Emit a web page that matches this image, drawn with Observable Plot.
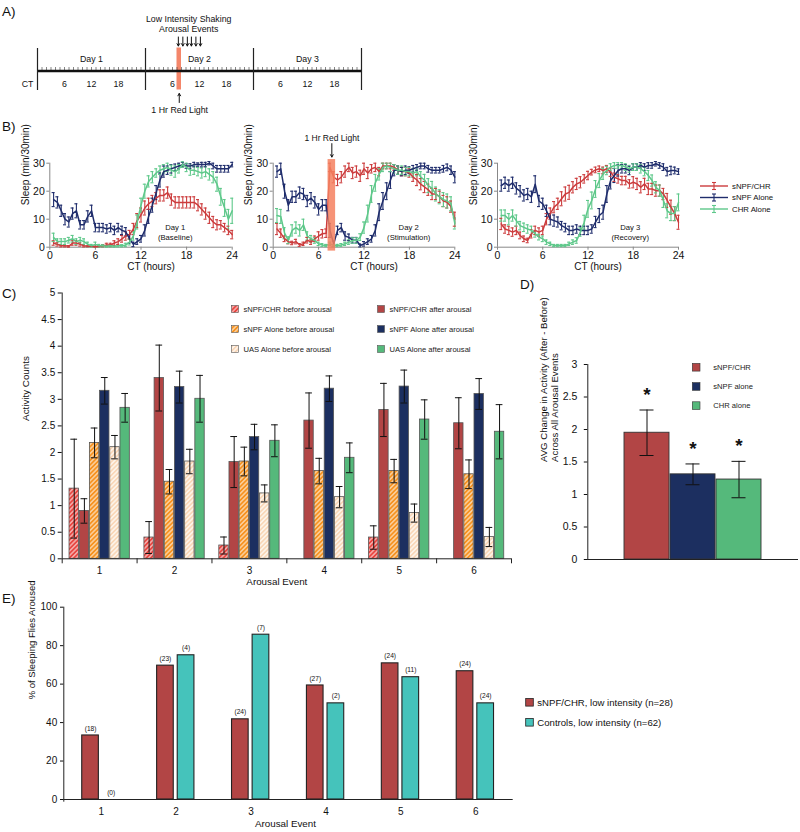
<!DOCTYPE html>
<html><head><meta charset="utf-8">
<script src="https://cdn.jsdelivr.net/npm/d3@7"></script>
<script src="https://cdn.jsdelivr.net/npm/@observablehq/plot@0.6"></script>
<style>
body{margin:0;background:#fff;}
#root{position:relative;width:800px;height:832px;overflow:hidden;background:#fff;}
</style></head><body><div id="root"></div>
<script>
// ---------------- DATA ----------------
// Panel A (schematic)
const dayNames = ["Day 1", "Day 2", "Day 3"];
const ctTicks = [6, 12, 18];
const arousalCT = [7.3, 8.3, 9.3, 10.2, 11.2, 12.2]; // day 2
const redLightA = {start: 7, end: 8};                 // day 2, 1 h

// Panel B: sleep (min/30min) in 30-min bins, CT 0.5 ... 24
const bSeries = ["sNPF/CHR", "sNPF Alone", "CHR Alone"];
const bTicksX = [0, 6, 12, 18, 24];
const bTicksY = [0, 10, 20, 30];
const red1 = [1.5,1,0.5,0.5,0.3,1.5,1.5,1, 0.5,0.3,0.3,0.2,0.3,0.5,0.8,0.8, 1.5,2,3,4,4.5,6.5,9.5,11.5, 14,15.5,16.5,17.5,18.5,18.5,19.5,17, 16,16,16,16,16,16,15,13.5, 12,10.5,9,8,8,7,6,4.5];
const navy1 = [17,16,13,10,9,12,13,8, 8,11,13,7,7,7,6.5,7, 6,7,6,5.5,3,1,2,3, 6,11,15,19.5,24,27,27.5,28, 28.5,29,29.5,29,29,29.5,29.5,29.5, 29.5,30,29,28,28,28,28,29.5];
const green1 = [3.5,2,2,2,2.5,3,2,2.5, 2,1,0.5,1,0.5,0.5,0.3,0.5, 0.3,0.5,0.5,0.8,1.8,4,9,15, 20,23.5,25,26.5,27.5,28,28.5,27.5, 27,28,29.5,28.5,27.5,27.5,27,26.5, 27,26,25,22.5,18,14,10,13];
const red1E = [0.8,0.6,0.4,0.4,0.3,0.8,0.8,0.6, 0.4,0.2,0.2,0.2,0.3,0.4,0.6,0.6, 0.8,1,1.2,1.5,1.5,2,2.5,2.5, 2.5,2,2,2,2,2,2,2, 2,2,2,2,2,2,2,2, 2,2,2,1.8,1.5,1.5,1.5,1.5];
const navy1E = [2.5,2,2,2,1.8,2,2.5,1.5, 1.5,2,2,1.5,1.5,1.5,1.5,1.5, 1.5,1.5,1.5,1.5,1.5,0.8,1,1.2, 2,2.5,2.5,2.5,2.5,2,1.5,1.5, 1.2,1,0.8,0.8,0.8,0.8,0.6,0.8, 0.8,0.6,1,1.2,1.2,1.2,1.2,0.8];
const green1E = [1.5,1,1,1,1,1.2,1,1, 1,0.8,0.5,0.8,0.5,0.4,0.3,0.4, 0.3,0.4,0.4,0.6,1,1.5,2.5,2.5, 2.5,2,2,1.5,1.5,1.5,1.5,1.8, 2,1.5,1,1.5,1.8,1.5,1.5,1.8, 1.8,2,2,2.5,3,3,3.5,4.5];

const red2 = [6.5,5,3,2,1.5,2,0.8,1.2, 2.5,1.8,3,4,4.8,5,28.5,25, 24,25,27,28.5,26.5,27,25.5,28, 26.5,28,28.5,27,29,29,29,28.5, 27.5,27,27,26.5,25,24,22.5,21.5, 20.5,19,19,18,16.5,16,14.5,10];
const navy2 = [27,28,20,15,18,18,19.5,19, 16.5,17.5,16,13.5,15,15,6,1.2, 6,7,4,3.5,2.5,2.5,0.6,1.2, 2,3,6,12.5,16.5,20,24,27.5, 27.5,27,27.5,27.5,28,28.5,29,29, 28,27.5,27.5,27.5,28,28.5,27.5,25];
const green2 = [11.3,11,5,2.5,6,7,6,8, 4,3,2.4,1.2,0.8,0.6,1.2,0.6, 0.6,0.8,1.2,1.8,2.4,2.4,3.6,7, 12,19,23,26,28.5,29,28.5,28, 27.5,27.5,27,27,26.5,27,25,24, 22,21,19,18,17,16.5,15.5,8.5];
const red2E = [2,1.5,1,0.8,0.6,0.8,0.5,0.6, 1,0.8,1,1.5,1.5,1.5,1.5,2, 2,2,2,1.5,2,2,2,2, 2,1.5,1.5,1.5,1,1,1,1, 1.5,1.5,1.5,1.5,1.5,2,2,2, 2,2,2,2,2,2,2,2.5];
const navy2E = [2,2,2.5,2,2,2,2,2, 2,2,2,2,2,2,2.5,1, 1.5,1.5,1.5,1.2,1,1,0.5,0.8, 1,1.2,2,3,3,3,3,2, 1.5,1.5,1.5,1.2,1.2,1,1,1, 1.2,1,1,1,1.2,1.2,1.5,2];
const green2E = [2.5,2.5,2,1.2,2,2,2,2, 1.5,1.2,1,0.6,0.5,0.4,0.6,0.4, 0.4,0.5,0.6,0.8,1,1,1.2,2, 3,3,3,2,1.5,1,1.5,1.5, 1.5,1.5,1.5,1.5,1.5,1.5,2,2, 2.5,2.5,2.5,2.5,2.5,2.5,2.5,2];

const red3 = [8.3,6.5,6,5.4,6,4.2,3,2.4, 4.8,6,5.4,6,10,12,14.3,15.5, 17.3,19,19.6,21.4,22.6,23.2,24.4,25.6, 26.8,27.6,28,27.4,28,26.8,25,24.4, 23.8,23.8,22.6,23.2,22.6,21.4,22.6,20.8, 20.8,20.2,20.2,19,16.7,14.3,12,8.9];
const navy3 = [22,23,22,23,21,20,18.5,19, 18,22.5,16.5,15.5,13,10,9.5,9, 7.7,7,6,6,6.5,6,6,6, 6.5,9,11.3,12.5,19,23.8,25.6,27.4, 28,28,27.4,28.6,28.6,29.2,28.6,29.2, 29.2,29.8,29.2,28.6,27,27.4,27.4,27];
const green3 = [11.3,11.3,10,11.3,9.5,7.7,7.1,6.5, 6,4.8,3.6,3,1.8,1.2,0.6,0.6, 0.6,0.6,1.2,1.8,2.4,5.4,8.9,13.7, 16.7,20.8,23.8,26.2,27.4,28.6,29.2,29.2, 29.2,28.6,28,28.6,28.6,28,27,25.6, 23.8,21.4,20.2,16.7,13,12,12,16];
const red3E = [2,1.5,1.5,1.5,1.5,1.2,1,0.8, 1.5,1.5,1.5,1.5,2,2,2,2, 2.5,2.5,2.5,2,2,2,1.5,1.5, 1,1,1,1.2,1.2,1.5,1.5,1.5, 1.5,1.5,1.5,2,2,2,2,2, 2,2,2,2,2.5,2.5,2.5,2.5];
const navy3E = [2,2,2,2,2,2,2,2, 2,3,2,2,2,2,2,1.8, 1.5,1.5,1.5,1.5,1.5,1.5,1.5,1.5, 1.5,2,2.5,2.5,3,3,2.5,2, 1.5,1.5,1.5,1.2,1.2,1,1.2,1, 1,0.8,1,1.2,1.5,1.5,1.2,1];
const green3E = [2,2,2,2,2,1.5,1.5,1.5, 1.5,1.2,1,1,0.8,0.6,0.4,0.4, 0.4,0.4,0.6,0.8,1,1.5,2.5,3, 3,3,2.5,2,1.5,1.2,1,1, 1,1.2,1.2,1.2,1.2,1.5,1.5,1.8, 2,2,2,2.5,2.5,2.5,2.5,3];
const redLightB = {start: 7.25, end: 8.25};

// Panel C: activity counts before / after arousal
const cEvents = [1, 2, 3, 4, 5, 6];
const cSeries = ["sNPF/CHR before arousal", "sNPF/CHR after arousal", "sNPF Alone before arousal",
                 "sNPF Alone after arousal", "UAS Alone before arousal", "UAS Alone after arousal"];
const chrBefore  = [1.32, 0.40, 0.25, 0, 0.40, 0];
const chrAfter   = [0.90, 3.40, 1.82, 2.60, 2.80, 2.55];
const snpfBefore = [2.18, 1.45, 1.83, 1.65, 1.65, 1.59];
const snpfAfter  = [3.16, 3.23, 2.29, 3.20, 3.24, 3.10];
const uasBefore  = [2.10, 1.83, 1.23, 1.16, 0.86, 0.41];
const uasAfter   = [2.84, 3.01, 2.22, 1.90, 2.62, 2.39];
const chrBeforeE  = [0.93, 0.30, 0.16, 0, 0.22, 0];
const chrAfterE   = [0.23, 0.62, 0.48, 0.52, 0.50, 0.48];
const snpfBeforeE = [0.28, 0.23, 0.27, 0.24, 0.22, 0.27];
const snpfAfterE  = [0.25, 0.30, 0.24, 0.24, 0.31, 0.29];
const uasBeforeE  = [0.22, 0.23, 0.16, 0.20, 0.17, 0.18];
const uasAfterE   = [0.27, 0.44, 0.30, 0.28, 0.37, 0.51];
const cTicksY = [0, 0.5, 1, 1.5, 2, 2.5, 3, 3.5, 4, 4.5, 5];

// Panel D
const dGroups = ["sNPF/CHR", "sNPF alone", "CHR alone"];
const dValues = [1.95, 1.31, 1.23];
const dErrors = [0.35, 0.16, 0.28];
const dTicksY = [0, 0.5, 1, 1.5, 2, 2.5, 3];

// Panel E
const eSeries = ["sNPF/CHR, low intensity (n=28)", "Controls, low intensity (n=62)"];
const ePctChr  = [33.3, 69.6, 41.7, 59.3, 70.8, 66.7];
const ePctCtrl = [0, 75.0, 85.7, 50.0, 63.6, 50.0];
const eNChr  = [18, 23, 24, 27, 24, 24];
const eNCtrl = [0, 4, 7, 2, 11, 24];
const eTicksY = [0, 20, 40, 60, 80, 100];

// ---------------- STYLE ----------------
const FONT = '"Liberation Sans", Arial, Helvetica, sans-serif';
const C_RED = "#cc3c3d", C_NAVY = "#1f2d6c", C_GREEN = "#5ec88a";
const K_RED = "#b24545", K_NAVY = "#1c2f60", K_GREEN = "#55b97b", K_CYAN = "#45c3bb";
const root = document.getElementById("root");
function place(el, left, top) {
  el.style.position = "absolute"; el.style.left = left + "px"; el.style.top = top + "px";
  root.appendChild(el); return el;
}
const st = (fs) => ({fontFamily: FONT, fontSize: fs + "px", color: "#111", background: "transparent", overflow: "visible", maxWidth: "none"});

// overlay (defs, legends, panel letters)
const overlay = d3.create("svg").attr("width", 800).attr("height", 832)
  .style("position", "absolute").style("left", "0px").style("top", "0px").style("overflow", "visible")
  .attr("font-family", FONT);
const defs = overlay.append("defs");
function hatch(id, color, lw) {
  const p = defs.append("pattern").attr("id", id).attr("patternUnits", "userSpaceOnUse")
    .attr("width", 3.2).attr("height", 3.2).attr("patternTransform", "rotate(45)");
  p.append("rect").attr("width", 3.2).attr("height", 3.2).attr("fill", color);
  p.append("line").attr("x1", 0.8).attr("y1", 0).attr("x2", 0.8).attr("y2", 3.2)
    .attr("stroke", "#fff").attr("stroke-width", lw).attr("stroke-opacity", 0.85);
}
hatch("hRed", "#e8443f", 1.0);
hatch("hOrange", "#f6921f", 1.0);
hatch("hPeach", "#f9d7b8", 1.3);
const cFills = ["url(#hRed)", K_RED, "url(#hOrange)", K_NAVY, "url(#hPeach)", K_GREEN];
root.appendChild(overlay.node());

// ---------------- PANEL A ----------------
const tickDataA = dayNames.flatMap((d, i) => ctTicks.map(t => ({h: i * 24 + t, t})));
place(Plot.plot({
  width: 400, height: 130, marginLeft: 37, marginRight: 39, marginTop: 0, marginBottom: 0,
  style: st(8.8),
  x: {domain: [0, 72], axis: null},
  y: {domain: [0, 130], range: [0, 130], axis: null},
  marks: [
    Plot.rect([redLightA], {x1: d => 24 + d.start, x2: d => 24 + d.end, y1: 47.5, y2: 89.5, fill: "#f4866a"}),
    Plot.ruleX(d3.range(0, 73), {y1: 67, y2: 71.5, stroke: "#333", strokeWidth: 0.6}),
    Plot.ruleY([70.5], {x1: 0, x2: 72, stroke: "#111", strokeWidth: 2.4}),
    Plot.ruleX([0, 24, 48, 72], {y1: 48, y2: 90, stroke: "#222", strokeWidth: 1.2}),
    Plot.text(dayNames, {x: (d, i) => i * 24 + 12, y: 59, text: d => d}),
    Plot.text(tickDataA, {x: "h", y: 83.5, text: d => String(d.t)}),
    Plot.text(["CT"], {x: 0, y: 83.5, dx: -10, text: d => d}),
    Plot.arrow(arousalCT, {x1: d => 24 + d, x2: d => 24 + d, y1: 36.5, y2: 45.5, headLength: 4, strokeWidth: 1, stroke: "#111"}),
    Plot.text(["Low Intensity Shaking", "Arousal Events"], {x: 24 + 9.6, y: (d, i) => 19 + i * 10, text: d => d}),
    Plot.arrow([redLightA], {x1: d => 24 + (d.start + d.end) / 2, x2: d => 24 + (d.start + d.end) / 2, y1: 102, y2: 93, headLength: 4, strokeWidth: 1, stroke: "#111"}),
    Plot.text(["1 Hr Red Light"], {x: 24 + 7.6, y: 110, text: d => d})
  ]
}), 0, 0);

// ---------------- PANEL B ----------------
const ctBins = red1.map((_, i) => (i + 1) * 0.5);
const days = [
  {v: [red1, navy1, green1], e: [red1E, navy1E, green1E], name: "Day 1", sub: "(Baseline)", ax: 16.5},
  {v: [red2, navy2, green2], e: [red2E, navy2E, green2E], name: "Day 2", sub: "(Stimulation)", ax: 17.9},
  {v: [red3, navy3, green3], e: [red3E, navy3E, green3E], name: "Day 3", sub: "(Recovery)", ax: 17.6}
];
function sleepPlot(day, width, ml, mr, extra) {
  const rows = [];
  bSeries.forEach((s, si) => day.v[si].forEach((v, i) => rows.push({s, ct: ctBins[i], v, e: day.e[si][i]})));
  const lo = d => Math.max(0, d.v - d.e), hi = d => d.v + d.e;
  return Plot.plot({
    width, height: 150, marginLeft: ml, marginRight: mr, marginTop: 32.7, marginBottom: 33.3,
    style: st(10.5),
    x: {domain: [0, 24]}, y: {domain: [0, 30]},
    color: {domain: bSeries, range: [C_RED, C_NAVY, C_GREEN]},
    marks: [
      Plot.ruleY([0], {stroke: "#888"}),
      Plot.ruleX([0], {stroke: "#888"}),
      Plot.axisX({ticks: bTicksX, tickSize: 3, tickPadding: 1.5, label: null, stroke: "#888"}),
      Plot.axisY({ticks: bTicksY, tickSize: 3, tickPadding: 2, label: null, stroke: "#888"}),
      Plot.ruleX(rows, {x: "ct", y1: lo, y2: hi, stroke: "s", strokeWidth: 1.1}),
      Plot.ruleY(rows, {y: hi, x1: d => d.ct - 0.2, x2: d => d.ct + 0.2, stroke: "s", strokeWidth: 1.1}),
      Plot.ruleY(rows, {y: lo, x1: d => d.ct - 0.2, x2: d => d.ct + 0.2, stroke: "s", strokeWidth: 1.1}),
      Plot.line(rows, {x: "ct", y: "v", z: "s", stroke: "s", strokeWidth: 1.5}),
      ...(extra || []),
      Plot.text([day.name, day.sub], {x: day.ax, y: (d, i) => i ? 3.4 : 7.1, text: d => d, fontSize: 7.7}),
      Plot.text(["Sleep (min/30min)"], {frameAnchor: "left", dx: -24, rotate: -90, text: d => d, fontSize: 10}),
      Plot.text(["CT (hours)"], {frameAnchor: "bottom", dx: 10, dy: 22.5, text: d => d, fontSize: 10})
    ]
  });
}
place(sleepPlot(days[0], 245, 49.3, 13.3), 0, 130);
place(sleepPlot(days[1], 235, 37.7, 15.7, [
  Plot.rect([redLightB], {x1: "start", x2: "end", y1: -1.4, y2: 31.3, fill: "#f4805f", fillOpacity: 0.85}),
  Plot.arrow([redLightB], {x1: d => (d.start + d.end) / 2, x2: d => (d.start + d.end) / 2, y1: 37, y2: 32.2, headLength: 4, strokeWidth: 1, stroke: "#111"}),
  Plot.text(["1 Hr Red Light"], {x: 7.75, y: 38.8, text: d => d, fontSize: 8.5})
]), 235, 130);
place(sleepPlot(days[2], 230, 37, 12), 460, 130);

// legend B
{
  const g = overlay.append("g").attr("font-size", 7.8);
  [C_RED, C_NAVY, C_GREEN].forEach((c, i) => {
    const y = 186 + i * 11.5;
    g.append("line").attr("x1", 700).attr("x2", 728).attr("y1", y).attr("y2", y).attr("stroke", c).attr("stroke-width", 1.4);
    g.append("line").attr("x1", 714).attr("x2", 714).attr("y1", y - 3.5).attr("y2", y + 3.5).attr("stroke", c).attr("stroke-width", 1.1);
    g.append("line").attr("x1", 712).attr("x2", 716).attr("y1", y - 3.5).attr("y2", y - 3.5).attr("stroke", c).attr("stroke-width", 1.1);
    g.append("line").attr("x1", 712).attr("x2", 716).attr("y1", y + 3.5).attr("y2", y + 3.5).attr("stroke", c).attr("stroke-width", 1.1);
    g.append("text").attr("x", 732).attr("y", y).attr("dy", "0.35em").attr("fill", "#111").text(bSeries[i]);
  });
}

// ---------------- PANEL C ----------------
const cVals = [chrBefore, chrAfter, snpfBefore, snpfAfter, uasBefore, uasAfter];
const cErrs = [chrBeforeE, chrAfterE, snpfBeforeE, snpfAfterE, uasBeforeE, uasAfterE];
const cRows = [];
cSeries.forEach((s, si) => cEvents.forEach((ev, ei) => {
  if (cVals[si][ei] > 0) cRows.push({s, si, ev, v: cVals[si][ei], e: cErrs[si][ei]});
}));
const bw = 0.136, g0 = 0.4075;
const cx1 = d => d.ev - g0 + d.si * bw, cx2 = d => d.ev - g0 + (d.si + 1) * bw, cxc = d => d.ev - g0 + (d.si + 0.5) * bw;
const cBounds = cEvents.map(e => e - 0.5).concat([cEvents.length + 0.5]);
place(Plot.plot({
  width: 520, height: 305, marginLeft: 61.7, marginRight: 9, marginTop: 12.5, marginBottom: 26.7,
  style: st(10),
  x: {domain: [0.5, 6.5]}, y: {domain: [0, 5]},
  marks: [
    ...cSeries.map((s, si) => Plot.rectY(cRows.filter(d => d.si === si), {x1: cx1, x2: cx2, y1: 0, y2: "v", fill: cFills[si], stroke: "#555", strokeWidth: 0.8, insetLeft: 0.4, insetRight: 0.4})),
    Plot.ruleX(cRows, {x: cxc, y1: d => d.v - d.e, y2: d => d.v + d.e, stroke: "#111", strokeWidth: 1}),
    Plot.ruleY(cRows, {y: d => d.v + d.e, x1: d => cxc(d) - 0.045, x2: d => cxc(d) + 0.045, stroke: "#111", strokeWidth: 1}),
    Plot.ruleY(cRows, {y: d => d.v - d.e, x1: d => cxc(d) - 0.045, x2: d => cxc(d) + 0.045, stroke: "#111", strokeWidth: 1}),
    Plot.ruleY([0], {x1: 0.5, x2: 6.5, stroke: "#222"}),
    Plot.ruleX([0.5], {y1: 0, y2: 5, stroke: "#222"}),
    Plot.ruleX(cBounds, {y1: 0, y2: -0.094, stroke: "#222"}),
    Plot.axisY({ticks: cTicksY, tickFormat: d => String(d), tickSize: 4, tickPadding: 3, label: null}),
    Plot.axisX({ticks: cEvents, tickFormat: d => String(d), tickSize: 0, tickPadding: 8.5, label: null}),
    Plot.text(["Activity Counts"], {frameAnchor: "left", dx: -36.7, dy: -5, rotate: -90, text: d => d, fontSize: 9.8}),
    Plot.text(["Arousal Event"], {frameAnchor: "bottom", dx: -10, dy: 25.7, text: d => d, fontSize: 9.8})
  ]
}), 0, 280);

// legend C
{
  const g = overlay.append("g").attr("font-size", 7.6);
  cSeries.forEach((s, si) => {
    const col = si % 2, row = Math.floor(si / 2);
    const x = col ? 377.5 : 231.5, y = 309 + row * 20;
    g.append("rect").attr("x", x).attr("y", y - 3.5).attr("width", 7).attr("height", 7)
      .attr("fill", cFills[si]).attr("stroke", "#555").attr("stroke-width", 0.6);
    g.append("text").attr("x", x + 12).attr("y", y).attr("dy", "0.35em").attr("fill", "#222").text(s);
  });
}

// ---------------- PANEL D ----------------
const dRows = dGroups.map((g, i) => ({g, v: dValues[i], e: dErrors[i]}));
const dColors = [K_RED, K_NAVY, K_GREEN];
place(Plot.plot({
  width: 270, height: 240, marginLeft: 57.3, marginRight: 2, marginTop: 24, marginBottom: 21,
  style: st(10.5),
  x: {type: "band", domain: dGroups, paddingInner: 0.02, paddingOuter: 0.76, axis: null},
  y: {domain: [0, 3]},
  color: {domain: dGroups, range: dColors},
  marks: [
    Plot.barY(dRows, {x: "g", y: "v", fill: "g", stroke: "#333", strokeWidth: 0.9}),
    Plot.ruleX(dRows, {x: "g", y1: d => d.v - d.e, y2: d => d.v + d.e, stroke: "#111", strokeWidth: 1}),
    Plot.tickY(dRows, {x: "g", y: d => d.v + d.e, insetLeft: 15.5, insetRight: 15.5, stroke: "#111", strokeWidth: 1}),
    Plot.tickY(dRows, {x: "g", y: d => d.v - d.e, insetLeft: 15.5, insetRight: 15.5, stroke: "#111", strokeWidth: 1}),
    Plot.text(dRows, {x: "g", y: d => d.v + d.e, dy: -15, text: () => "*", fontSize: 19, fontWeight: "bold"}),
    Plot.ruleY([0], {stroke: "#222"}),
    Plot.frame({anchor: "left", stroke: "#222"}),
    Plot.axisY({ticks: dTicksY, tickFormat: d => String(d), tickSize: 3.5, tickPadding: 7, label: null}),
    Plot.text(["AVG Change in Activity (After - Before)\nAcross All Arousal Events"], {frameAnchor: "left", dx: -38.6, rotate: -90, lineHeight: 1.12, text: d => d, fontSize: 9.6})
  ]
}), 530, 340);

// legend D
{
  const g = overlay.append("g").attr("font-size", 7.6);
  dGroups.forEach((s, i) => {
    const y = 367.3 + i * 19.2;
    g.append("rect").attr("x", 692.3).attr("y", y - 3.9).attr("width", 7.7).attr("height", 7.7)
      .attr("fill", dColors[i]).attr("stroke", "#333").attr("stroke-width", 0.6);
    g.append("text").attr("x", 713.3).attr("y", y).attr("dy", "0.35em").attr("fill", "#222").text(s);
  });
}

// ---------------- PANEL E ----------------
const eRows = [];
cEvents.forEach((ev, i) => {
  eRows.push({k: 0, ev, v: ePctChr[i], n: eNChr[i]});
  eRows.push({k: 1, ev, v: ePctCtrl[i], n: eNCtrl[i]});
});
const ex1 = d => d.k ? d.ev + 0.021 : d.ev - 0.254, ex2 = d => d.k ? d.ev + 0.244 : d.ev - 0.032;
const eColors = [K_RED, K_CYAN];
place(Plot.plot({
  width: 520, height: 237, marginLeft: 63.3, marginRight: 7.3, marginTop: 11.7, marginBottom: 33,
  style: st(10),
  x: {domain: [0.5, 6.5]}, y: {domain: [0, 100]},
  marks: [
    Plot.rectY(eRows.filter(d => d.v > 0), {x1: ex1, x2: ex2, y1: 0, y2: "v", fill: d => eColors[d.k], stroke: "#222", strokeWidth: 1.1}),
    Plot.text(eRows, {x: d => (ex1(d) + ex2(d)) / 2, y: "v", dy: -7, text: d => `(${d.n})`, fontSize: 6.6}),
    Plot.ruleY([0], {x1: 0.5, x2: 6.5, stroke: "#222"}),
    Plot.ruleX([0.5], {y1: -1.4, y2: 100, stroke: "#222"}),
    Plot.axisY({ticks: eTicksY, tickSize: 3.3, tickPadding: 3.3, label: null}),
    Plot.axisX({ticks: cEvents, tickFormat: d => String(d), tickSize: 0, tickPadding: 8, label: null}),
    Plot.text(["% of Sleeping Flies Aroused"], {frameAnchor: "left", dx: -31.6, dy: -4, rotate: -90, text: d => d, fontSize: 9.5}),
    Plot.text(["Arousal Event"], {frameAnchor: "bottom", dx: -3, dy: 27.7, text: d => d, fontSize: 9.8})
  ]
}), 0, 595);

// legend E
{
  const g = overlay.append("g").attr("font-size", 9.6);
  eSeries.forEach((s, i) => {
    const y = 702.3 + i * 20;
    g.append("rect").attr("x", 525.7).attr("y", y - 3.8).attr("width", 7.6).attr("height", 7.6)
      .attr("fill", eColors[i]).attr("stroke", "#222").attr("stroke-width", 0.8);
    g.append("text").attr("x", 537.3).attr("y", y).attr("dy", "0.35em").attr("fill", "#111").text(s);
  });
}

// panel letters (on top)
root.appendChild(overlay.node());
const letters = [["A)", 2, 15.5], ["B)", 2, 130.5], ["C)", 2, 298], ["D)", 520, 289], ["E)", 2, 602.5]];
overlay.append("g").attr("font-size", 13.5).attr("fill", "#111")
  .selectAll("text").data(letters).join("text")
  .attr("x", d => d[1]).attr("y", d => d[2]).text(d => d[0]);
</script></body></html>
